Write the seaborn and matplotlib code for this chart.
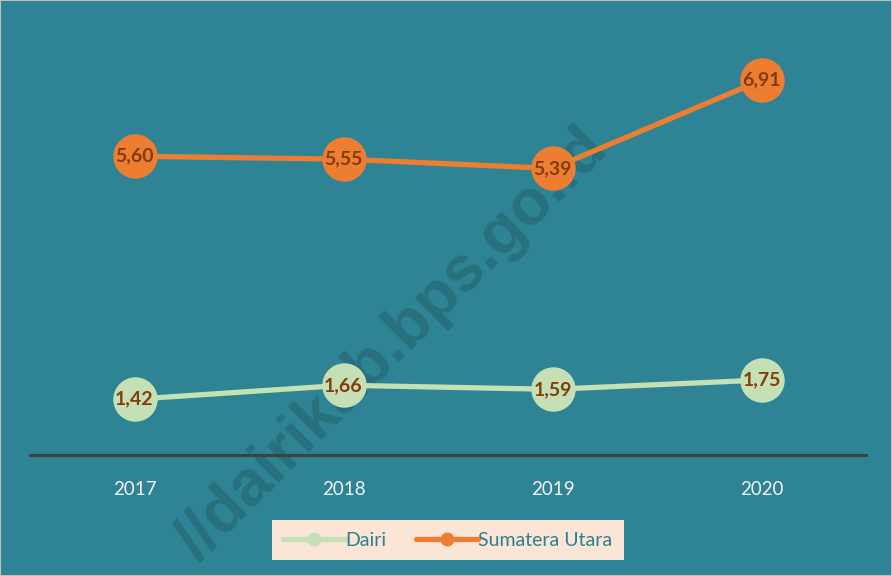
import matplotlib
matplotlib.use("Agg")
import matplotlib.pyplot as plt
from matplotlib.lines import Line2D
from matplotlib.patches import Rectangle
import pandas as pd
import seaborn as sns

years = ["2017", "2018", "2019", "2020"]
dairi = [1.42, 1.66, 1.59, 1.75]
sumut = [5.60, 5.55, 5.39, 6.91]
series_names = ["Dairi", "Sumatera Utara"]
series_colors = ["#C5E0B4", "#ED7D31"]

bg = "#2E8394"
label_color = "#843C0C"

df = pd.DataFrame({
    "year": years * 2,
    "value": dairi + sumut,
    "region": [series_names[0]] * 4 + [series_names[1]] * 4,
})

sns.set_style("white")
plt.rcParams["font.family"] = ["Lato", "DejaVu Sans"]

fig = plt.figure(figsize=(8.92, 5.76), dpi=100, facecolor=bg)
ax = fig.add_axes([30 / 892, 1 - 455 / 576, 836 / 892, 415 / 576])
ax.set_facecolor("none")

# watermark behind everything
fig.text(392 / 892, 1 - 345 / 576, "//dairikab.bps.go.id", rotation=45, rotation_mode="anchor",
         ha="center", va="center", fontsize=46, fontweight="bold",
         family="Liberation Sans", color="black", alpha=0.14, zorder=-1)

sns.lineplot(data=df, x="year", y="value", hue="region", palette=series_colors,
             marker="o", markersize=32, markeredgewidth=0, linewidth=3.8,
             legend=False, ax=ax, sort=False)

for vals in (dairi, sumut):
    for i, v in enumerate(vals):
        ax.text(i, v, f"{v:.2f}".replace(".", ","), ha="center", va="center",
                fontsize=14, fontweight="bold", color=label_color, zorder=5)

ax.set_xlim(-0.5, 3.5)
ax.set_ylim(0.46, 7.6)
ax.set_xlabel("")
ax.set_ylabel("")
ax.set_yticks([])
ax.tick_params(axis="x", length=0, pad=19, labelsize=13.5, labelcolor="#F2F2F2")
for s in ["top", "right", "left"]:
    ax.spines[s].set_visible(False)
ax.spines["bottom"].set_color("#404040")
ax.spines["bottom"].set_linewidth(2.2)

handles = [Line2D([], [], color=c, lw=3.8, marker="o", markersize=9) for c in series_colors]
leg = fig.legend(handles, series_names, loc="center", bbox_to_anchor=(0.502, 0.0625),
                 ncol=2, frameon=True, fancybox=False, fontsize=14,
                 handlelength=3.2, handletextpad=0.0, columnspacing=1.5,
                 borderpad=0.6, borderaxespad=0)
leg.get_frame().set_facecolor("#FBE5D6")
leg.get_frame().set_edgecolor("none")
leg.get_frame().set_alpha(1)
for t in leg.get_texts():
    t.set_color("#2E7F90")

fig.patches.append(Rectangle((0, 0), 1, 1, transform=fig.transFigure, fill=False,
                             edgecolor="#BFBFBF", linewidth=1.5, zorder=10))

fig.savefig("out.png", dpi=100, facecolor=bg)
